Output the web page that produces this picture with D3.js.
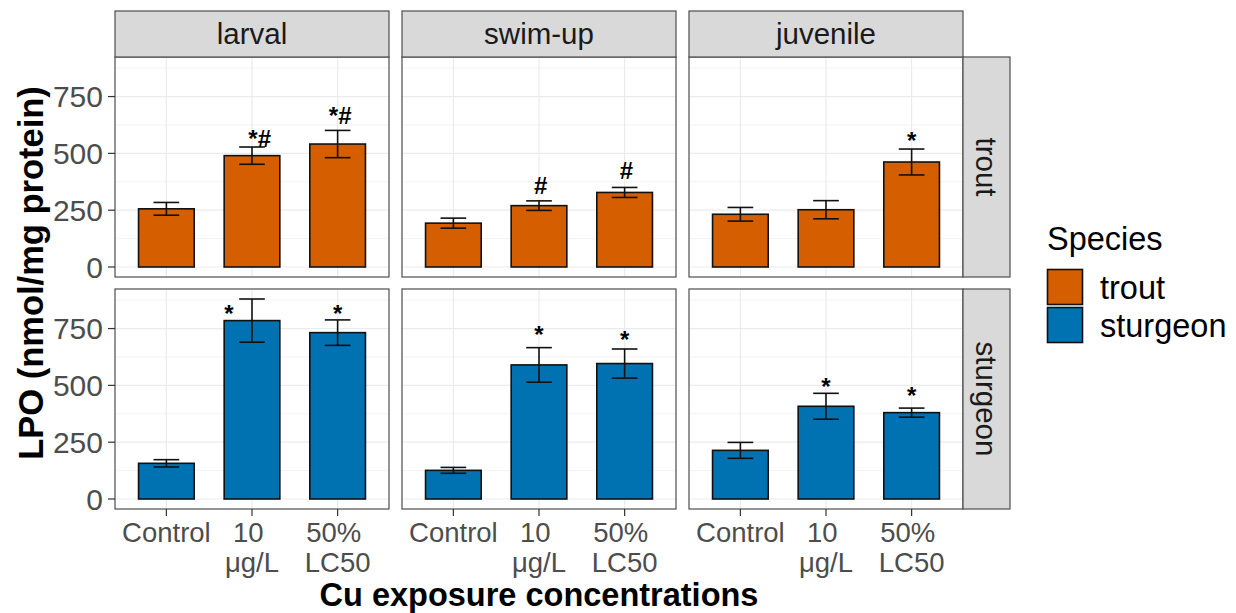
<!DOCTYPE html>
<html><head><meta charset="utf-8">
<script src="https://cdn.jsdelivr.net/npm/d3@7"></script>
<style>html,body{margin:0;padding:0;background:#fff}svg{display:block}text{font-family:"Liberation Sans",Arial,sans-serif}</style>
</head><body>
<svg id="chart" width="1236" height="613"></svg>
<script>
// ---- data ----
const stages = ["larval", "swim-up", "juvenile"];
const species = ["trout", "sturgeon"];
const concentrations = ["Control", "10 μg/L", "50% LC50"];
const concTickLines = [["Control"], ["10 ", "μg/L"], ["50% ", "LC50"]];
const yTicks = [0, 250, 500, 750];
const yMinorTicks = [125, 375, 625, 875];
// mean LPO per stage (rows) x concentration (cols)
const troutMean = [[256, 490, 541], [193, 270, 328], [232, 252, 462]];
const troutSE = [[28, 38, 60], [22, 21, 22], [30, 40, 57]];
const sturgeonMean = [[157, 785, 732], [126, 590, 596], [214, 408, 380]];
const sturgeonSE = [[16, 95, 56], [13, 76, 64], [35, 57, 20]];
// significance labels
const troutSig = [["", "*#", "*#"], ["", "#", "#"], ["", "", "*"]];
const troutSigY = [[0, 530, 631], [0, 322, 388], [0, 0, 520]];
const troutSigDx = [[0, 0.09, 0.03], [0, 0.02, 0.02], [0, 0, 0]];
const sturgeonSig = [["", "*", "*"], ["", "*", "*"], ["", "*", "*"]];
const sturgeonSigY = [[0, 781, 781], [0, 688, 666], [0, 459, 419]];
const sturgeonSigDx = [[0, -0.27, 0], [0, 0, 0], [0, 0, 0]];
const speciesColors = ["#D55E00", "#0072B2"];

const seriesMean = [troutMean, sturgeonMean];
const seriesSE = [troutSE, sturgeonSE];
const seriesSig = [troutSig, sturgeonSig];
const seriesSigY = [troutSigY, sturgeonSigY];
const seriesSigDx = [troutSigDx, sturgeonSigDx];

// ---- layout ----
const svg = d3.select("#chart");
const panelX0 = [115, 402, 689], panelW = 274;
const panelY0 = [57, 289], panelH = 220;
const stripTop = 11, stripH = 46;
const rStripX = 963, rStripW = 47;
const border = "#4d4d4d";

let maxVal = 0;
seriesMean.forEach((m, s) => m.forEach((r, i) => r.forEach((v, j) => { maxVal = Math.max(maxVal, v + seriesSE[s][i][j]); })));
const expand = maxVal * 0.05;

const x = d3.scaleLinear().domain([0.4, 3.6]).range([0, panelW]);
const y = d3.scaleLinear().domain([-expand, maxVal + expand]).range([panelH, 0]);
const barW = 0.65, ebW = 0.3;

species.forEach((sp, s) => {
  stages.forEach((st, i) => {
    const g = svg.append("g").attr("transform", `translate(${panelX0[i]},${panelY0[s]})`);
    g.append("rect").attr("width", panelW).attr("height", panelH).attr("fill", "#fff");
    // minor grid
    g.selectAll(".ymin").data(yMinorTicks).join("line")
      .attr("x1", 0).attr("x2", panelW).attr("y1", d => y(d)).attr("y2", d => y(d))
      .attr("stroke", "#EBEBEB").attr("stroke-width", 0.6);
    // major grid
    g.selectAll(".ymaj").data(yTicks).join("line")
      .attr("x1", 0).attr("x2", panelW).attr("y1", d => y(d)).attr("y2", d => y(d))
      .attr("stroke", "#EBEBEB").attr("stroke-width", 1.2);
    g.selectAll(".xmaj").data(concentrations).join("line")
      .attr("x1", (d, j) => x(j + 1)).attr("x2", (d, j) => x(j + 1)).attr("y1", 0).attr("y2", panelH)
      .attr("stroke", "#EBEBEB").attr("stroke-width", 1.2);
    const means = seriesMean[s][i], ses = seriesSE[s][i];
    // bars
    g.selectAll(".bar").data(means).join("rect")
      .attr("x", (d, j) => x(j + 1 - barW / 2)).attr("width", x(1 + barW / 2) - x(1 - barW / 2))
      .attr("y", d => y(d)).attr("height", d => y(0) - y(d))
      .attr("fill", speciesColors[s]).attr("stroke", "#111").attr("stroke-width", 1.6);
    // error bars
    means.forEach((m, j) => {
      const se = ses[j];
      const eg = g.append("g").attr("stroke", "#111").attr("stroke-width", 1.6);
      eg.append("line").attr("x1", x(j + 1)).attr("x2", x(j + 1)).attr("y1", y(m - se)).attr("y2", y(m + se));
      eg.append("line").attr("x1", x(j + 1 - ebW / 2)).attr("x2", x(j + 1 + ebW / 2)).attr("y1", y(m - se)).attr("y2", y(m - se));
      eg.append("line").attr("x1", x(j + 1 - ebW / 2)).attr("x2", x(j + 1 + ebW / 2)).attr("y1", y(m + se)).attr("y2", y(m + se));
      const lab = seriesSig[s][i][j];
      if (lab) {
        g.append("text").attr("x", x(j + 1 + seriesSigDx[s][i][j])).attr("y", y(seriesSigY[s][i][j]))
          .attr("text-anchor", "middle").attr("font-weight", "bold").attr("font-size", 24).attr("fill", "#000").text(lab);
      }
    });
    g.append("rect").attr("width", panelW).attr("height", panelH).attr("fill", "none")
      .attr("stroke", border).attr("stroke-width", 1.2);
    // y axis on left panels
    if (i === 0) {
      const ya = g.append("g");
      ya.selectAll("line").data(yTicks).join("line")
        .attr("x1", -7).attr("x2", 0).attr("y1", d => y(d)).attr("y2", d => y(d))
        .attr("stroke", "#333").attr("stroke-width", 1.2);
      ya.selectAll("text").data(yTicks).join("text")
        .attr("x", -12).attr("y", d => y(d)).attr("dy", "0.36em").attr("text-anchor", "end")
        .attr("font-size", 30).attr("fill", "#4D4D4D").text(d => d);
    }
    // x axis on bottom panels
    if (s === species.length - 1) {
      const xa = g.append("g").attr("transform", `translate(0,${panelH})`);
      xa.selectAll("line").data(concentrations).join("line")
        .attr("x1", (d, j) => x(j + 1)).attr("x2", (d, j) => x(j + 1)).attr("y1", 0).attr("y2", 7)
        .attr("stroke", "#333").attr("stroke-width", 1.2);
      concTickLines.forEach((lines, j) => {
        const t = xa.append("text").attr("text-anchor", "middle").attr("font-size", 27.5).attr("fill", "#4D4D4D")
          .attr("xml:space", "preserve").style("white-space", "pre");
        lines.forEach((ln, k) => t.append("tspan").attr("x", x(j + 1)).attr("y", 33 + k * 29.5).text(ln));
      });
    }
  });
});

// column strips
stages.forEach((st, i) => {
  svg.append("rect").attr("x", panelX0[i]).attr("y", stripTop).attr("width", panelW).attr("height", stripH)
    .attr("fill", "#D9D9D9").attr("stroke", border).attr("stroke-width", 1.2);
  svg.append("text").attr("x", panelX0[i] + panelW / 2).attr("y", stripTop + stripH / 2).attr("dy", "0.35em")
    .attr("text-anchor", "middle").attr("font-size", 29.5).attr("fill", "#1A1A1A").text(st);
});
// row strips
species.forEach((sp, s) => {
  svg.append("rect").attr("x", rStripX).attr("y", panelY0[s]).attr("width", rStripW).attr("height", panelH)
    .attr("fill", "#D9D9D9").attr("stroke", border).attr("stroke-width", 1.2);
  const cx = rStripX + rStripW / 2, cy = panelY0[s] + panelH / 2;
  svg.append("text").attr("transform", `translate(${cx},${cy}) rotate(90)`).attr("dy", "0.35em")
    .attr("text-anchor", "middle").attr("font-size", 29.5).attr("fill", "#1A1A1A").text(sp);
});

// axis titles
svg.append("text").attr("x", (panelX0[0] + panelX0[2] + panelW) / 2).attr("y", 606)
  .attr("text-anchor", "middle").attr("font-weight", "bold").attr("font-size", 32.5).attr("fill", "#000")
  .text("Cu exposure concentrations");
svg.append("text").attr("transform", `translate(43,${(panelY0[0] + panelY0[1] + panelH) / 2 - 10}) rotate(-90)`)
  .attr("text-anchor", "middle").attr("font-weight", "bold").attr("font-size", 34.5).attr("fill", "#000")
  .text("LPO (nmol/mg protein)");

// legend
const lg = svg.append("g");
lg.append("text").attr("x", 1047).attr("y", 250).attr("font-size", 32.5).attr("fill", "#000").text("Species");
species.forEach((sp, s) => {
  lg.append("rect").attr("x", 1047.5).attr("y", 269.5 + s * 38).attr("width", 35).attr("height", 35)
    .attr("fill", speciesColors[s]).attr("stroke", "#111").attr("stroke-width", 1.6);
  lg.append("text").attr("x", 1100).attr("y", 299 + s * 38).attr("font-size", 32.5).attr("fill", "#000").text(sp);
});
</script>
</body></html>
